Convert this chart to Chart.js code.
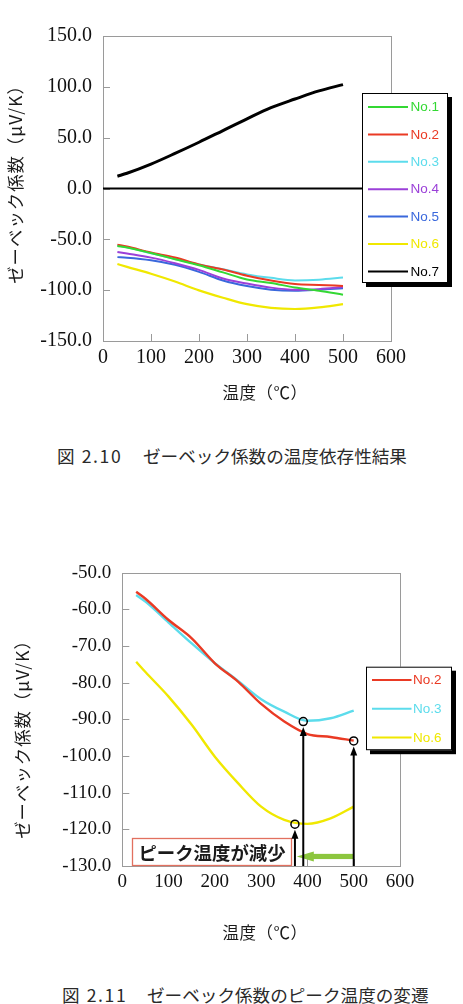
<!DOCTYPE html>
<html>
<head>
<meta charset="utf-8">
<script src="https://cdn.jsdelivr.net/npm/chart.js@4.4.0/dist/chart.umd.min.js"></script>
<style>
  html, body { margin:0; padding:0; background:#fff; }
  body { width:463px; height:1004px; position:relative; overflow:hidden; }
  .wrap { position:absolute; left:0; width:463px; height:420px; }
  .cap { position:absolute; font-family:"Noto Sans CJK JP","Noto Sans CJK SC",sans-serif; font-size:17.6px; line-height:17.6px; color:#2a2a2a; white-space:pre; }
  .cap .pre { display:inline-block; letter-spacing:1.6px; }
</style>
</head>
<body>
<div class="wrap" style="top:0px"><canvas id="c1" width="463" height="420"></canvas></div>
<div class="cap" style="left:57px;top:447px"><span class="pre" id="cap1a" style="width:86px"></span><span id="cap1b"></span></div>
<div class="wrap" style="top:540px"><canvas id="c2" width="463" height="420"></canvas></div>
<div class="cap" style="left:62px;top:986px"><span class="pre" id="cap2a" style="width:85px"></span><span id="cap2b"></span></div>
<script>
// ---------- data ----------
const temps = [30, 50, 100, 150, 200, 250, 300, 350, 400, 450, 500];
const no1 = [-56.5, -58.0, -63.5, -69.5, -75.5, -82.5, -89.5, -93.0, -97.3, -100.5, -104.5];
const no2 = [-55.2, -57.1, -62.9, -67.9, -74.7, -79.7, -85.8, -90.6, -94.0, -94.8, -95.8];
const no3 = [-56.1, -57.9, -63.6, -69.3, -74.7, -79.5, -84.5, -87.9, -90.4, -89.7, -87.6];
const no4 = [-62.5, -64.0, -68.0, -73.5, -80.0, -88.5, -93.5, -97.5, -99.5, -99.0, -97.0];
const no5 = [-67.5, -68.0, -70.5, -75.0, -82.0, -90.5, -96.0, -99.5, -100.5, -99.5, -98.0];
const no6 = [-74.3, -77.1, -83.8, -91.5, -100.2, -107.4, -113.8, -117.4, -118.5, -117.0, -113.8];
const no7 = [12.1, 15.0, 24.0, 34.5, 45.5, 57.0, 68.5, 79.5, 88.0, 96.0, 102.2];

const seriesLabels = ['No.1', 'No.2', 'No.3', 'No.4', 'No.5', 'No.6', 'No.7'];
const seriesColors = ['#33d833', '#ea3a24', '#5cdcec', '#9b40d8', '#3a68dc', '#f0e800', '#000000'];

// peaks marked in fig 2.11 (temperature, value)
const peakTemps = [391, 500, 373];
const peakValues = [-90.6, -95.9, -118.6];
const shiftFrom = 500, shiftTo = 377, shiftLevel = -127.4;

const xTitle = '温度（℃）';
const yTitle = 'ゼーベック係数（μV/K）';
const noteText = 'ピーク温度が減少';
const caption1 = ['図 2.10　', 'ゼーベック係数の温度依存性結果'];
const caption2 = ['図 2.11　', 'ゼーベック係数のピーク温度の変遷'];

document.getElementById('cap1a').textContent = caption1[0];
document.getElementById('cap1b').textContent = caption1[1];
document.getElementById('cap2a').textContent = caption2[0];
document.getElementById('cap2b').textContent = caption2[1];

const CJK = '"Noto Sans CJK JP","Noto Sans CJK SC",sans-serif';

function makeDecor(cfg) {
  return {
    id: 'decor',
    beforeDatasetsDraw(chart) {
      const {ctx, chartArea: a, scales: {x, y}} = chart;
      ctx.save();
      ctx.strokeStyle = '#9a9a9a';
      ctx.lineWidth = 1;
      ctx.strokeRect(Math.round(a.left) + 0.5, Math.round(a.top) + 0.5,
                     Math.round(a.right - a.left), Math.round(a.bottom - a.top));
      ctx.beginPath();
      y.ticks.forEach(t => {
        const py = Math.round(y.getPixelForValue(t.value)) + 0.5;
        ctx.moveTo(a.left, py); ctx.lineTo(a.left + 7, py);
      });
      x.ticks.forEach(t => {
        const px = Math.round(x.getPixelForValue(t.value)) + 0.5;
        ctx.moveTo(px, a.bottom); ctx.lineTo(px, a.bottom - 7);
      });
      ctx.stroke();
      if (cfg.zeroLine) {
        const py = y.getPixelForValue(0);
        ctx.strokeStyle = '#000';
        ctx.lineWidth = 2.2;
        ctx.beginPath(); ctx.moveTo(a.left, py); ctx.lineTo(a.right, py); ctx.stroke();
      }
      ctx.restore();
    },
    afterDatasetsDraw(chart) {
      const {ctx, chartArea: a, scales: {x, y}} = chart;
      ctx.save();
      if (cfg.annotate) {
        // green shift arrow
        const gy = y.getPixelForValue(shiftLevel);
        const gx0 = x.getPixelForValue(shiftFrom);
        const gx1 = x.getPixelForValue(shiftTo);
        ctx.fillStyle = '#8cc63e';
        ctx.fillRect(gx1 + 16, gy - 2.6, gx0 - gx1 - 16, 5.2);
        ctx.beginPath();
        ctx.moveTo(gx1, gy); ctx.lineTo(gx1 + 17, gy - 5); ctx.lineTo(gx1 + 17, gy + 5); ctx.closePath();
        ctx.fill();
        // note box
        ctx.font = 'bold 18.4px ' + CJK;
        const bx0 = 132, bx1 = 292, by0 = 298, by1 = a.bottom;
        ctx.fillStyle = '#fff';
        ctx.fillRect(bx0, by0, bx1 - bx0, by1 - by0);
        ctx.strokeStyle = '#e2705f';
        ctx.lineWidth = 1.3;
        ctx.strokeRect(bx0 + 0.5, by0 + 0.5, bx1 - bx0 - 1, by1 - by0 - 1);
        ctx.fillStyle = '#1a1a1a';
        ctx.textAlign = 'center';
        ctx.textBaseline = 'middle';
        ctx.fillText(noteText, (bx0 + bx1) / 2, (by0 + by1) / 2 + 1);
        // peak arrows and circles
        ctx.strokeStyle = '#000';
        ctx.fillStyle = '#000';
        peakTemps.forEach((t, i) => {
          const px = x.getPixelForValue(t);
          const py = y.getPixelForValue(peakValues[i]);
          const tip = py + 5.5;
          ctx.lineWidth = 2;
          ctx.beginPath(); ctx.moveTo(px, a.bottom); ctx.lineTo(px, tip + 6); ctx.stroke();
          ctx.beginPath();
          ctx.moveTo(px, tip); ctx.lineTo(px - 3.5, tip + 9); ctx.lineTo(px + 3.5, tip + 9); ctx.closePath();
          ctx.fill();
          ctx.lineWidth = 1.5;
          ctx.beginPath(); ctx.arc(px, py, 4, 0, Math.PI * 2); ctx.stroke();
        });
      }
      // legend
      const L = cfg.legend;
      ctx.fillStyle = '#000';
      ctx.fillRect(L.x + 4, L.y + 4, L.w, L.h);
      ctx.fillStyle = '#fff';
      ctx.fillRect(L.x, L.y, L.w, L.h);
      ctx.strokeStyle = '#000';
      ctx.lineWidth = 1;
      ctx.strokeRect(L.x + 0.5, L.y + 0.5, L.w - 1, L.h - 1);
      ctx.font = '13.5px "Liberation Sans", Arial, sans-serif';
      ctx.textAlign = 'left';
      ctx.textBaseline = 'middle';
      chart.data.datasets.forEach((ds, i) => {
        const ry = L.row0 + i * L.gap;
        ctx.strokeStyle = ds.borderColor;
        ctx.lineWidth = 2;
        ctx.beginPath(); ctx.moveTo(L.lx0, ry); ctx.lineTo(L.lx1, ry); ctx.stroke();
        ctx.fillStyle = ds.borderColor;
        ctx.fillText(ds.label, L.tx, ry + 0.5);
      });
      // axis titles
      ctx.fillStyle = '#1a1a1a';
      ctx.font = '16.5px ' + CJK;
      ctx.textAlign = 'center';
      ctx.textBaseline = 'middle';
      ctx.letterSpacing = '0.5px';
      ctx.fillText(xTitle, cfg.xt[0], cfg.xt[1]);
      ctx.save();
      ctx.translate(cfg.yt[0], cfg.yt[1]);
      ctx.rotate(-Math.PI / 2);
      ctx.font = '17.4px ' + CJK;
      ctx.letterSpacing = '1px';
      ctx.fillText(yTitle, 0, 0);
      ctx.restore();
      ctx.restore();
    }
  };
}

function makeChart(id, sets, yMin, yMax, yStep, tickFont, pad, yw, xh, decorCfg) {
  const datasets = sets.map(([idx, data, lw]) => ({
    label: seriesLabels[idx],
    data: data,
    borderColor: seriesColors[idx],
    backgroundColor: seriesColors[idx],
    borderWidth: lw,
    pointRadius: 0,
    cubicInterpolationMode: 'monotone',
    fill: false
  }));
  return new Chart(document.getElementById(id), {
    type: 'line',
    data: { labels: temps, datasets },
    options: {
      responsive: false,
      animation: false,
      layout: { padding: pad },
      plugins: { legend: { display: false }, tooltip: { enabled: false }, title: { display: false } },
      scales: {
        x: {
          type: 'linear', min: 0, max: 600,
          ticks: { stepSize: 100, font: { family: '"Liberation Serif", "Times New Roman", serif', size: tickFont }, color: '#111', padding: 5, maxRotation: 0 },
          grid: { display: false, drawTicks: false },
          border: { display: false },
          afterFit: s => { s.height = xh; }
        },
        y: {
          min: yMin, max: yMax,
          ticks: { stepSize: yStep, font: { family: '"Liberation Serif", "Times New Roman", serif', size: tickFont }, color: '#111', padding: 11,
                   callback: v => Number(v).toFixed(1) },
          grid: { display: false, drawTicks: false },
          border: { display: false },
          afterFit: s => { s.width = yw; }
        }
      }
    },
    plugins: [makeDecor(decorCfg)]
  });
}

makeChart('c1',
  [[0, no1, 2], [1, no2, 2], [2, no3, 2], [3, no4, 2], [4, no5, 2], [5, no6, 2.2], [6, no7, 3]],
  -150, 150, 50, 20, { top: 36, right: 72, left: 0, bottom: 0 }, 103, 79,
  { zeroLine: true, annotate: false,
    legend: { x: 362, y: 93, w: 86, h: 190, row0: 107, gap: 27.4, lx0: 368, lx1: 408, tx: 410.5 },
    xt: [265, 393], yt: [15, 180] });

makeChart('c2',
  [[1, no2, 2.4], [2, no3, 2.4], [5, no6, 2.4]],
  -130, -50, 10, 19, { top: 32.7, right: 63, left: 0, bottom: 0 }, 122.3, 94,
  { zeroLine: false, annotate: true,
    legend: { x: 366, y: 126.7, w: 86, h: 83.5, row0: 140, gap: 28.8, lx0: 372, lx1: 411.5, tx: 413 },
    xt: [265, 393], yt: [22, 195] });
</script>
</body>
</html>
